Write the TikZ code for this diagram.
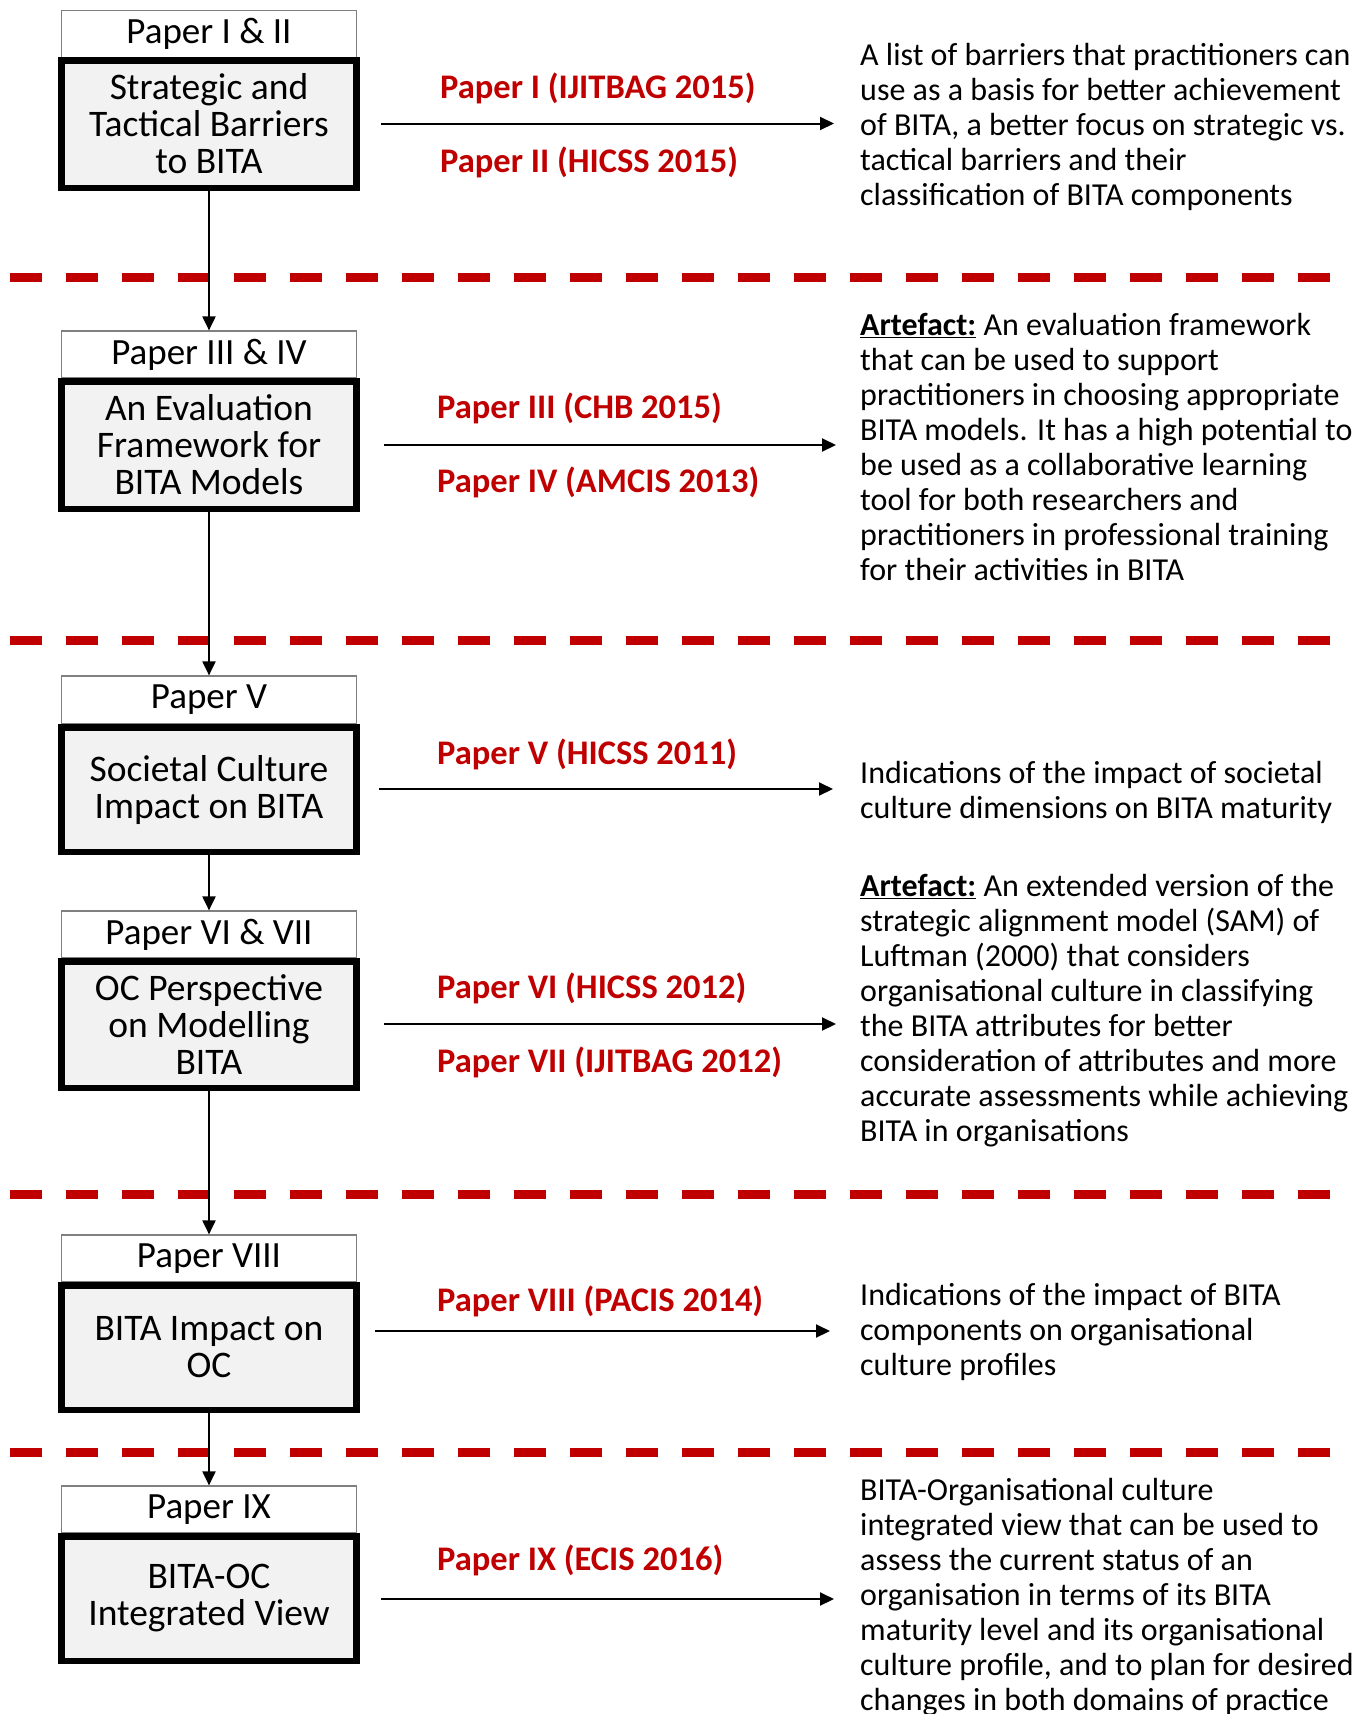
\documentclass[tikz,border=0pt]{standalone}
\usepackage{fontspec}
\setmainfont{Carlito}
\usepackage{tikz}
\usepackage{xcolor}
\usetikzlibrary{arrows.meta, positioning}
\definecolor{BITA_Red}{HTML}{C00000}
\definecolor{BITA_Grey}{HTML}{F2F2F2}
\definecolor{BITA_Edge}{HTML}{808080}

\begin{document}
\begin{tikzpicture}[x=1pt, y=-1pt,
    hdr/.style={draw=BITA_Edge, line width=1.2pt, minimum width=295pt, minimum height=47pt,
        inner sep=0pt, font=\fontsize{37}{38}\selectfont},
    topic/.style={draw=black, line width=6.5pt, fill=BITA_Grey, minimum width=295pt,
        minimum height=124.5pt, inner sep=0pt, align=center, font=\fontsize{37.5}{37}\selectfont},
    paper/.style={anchor=west, inner sep=0pt, text=BITA_Red, font=\fontsize{34.5}{36}\selectfont\bfseries},
    result/.style={anchor=west, inner sep=0pt, align=left, font=\fontsize{32}{35}\selectfont},
    flow/.style={line width=2pt, -{Triangle[length=14pt,width=13pt]}},
    sepline/.style={draw=BITA_Red, line width=9pt, dash pattern=on 32pt off 24pt}]

    \useasboundingbox (0,0) rectangle (1372,1714);

    % All boxes share the column centred at x = 209, results start at x = 860

    % === phase separators ===
    \foreach \y in {277, 640, 1194, 1452}
        \draw[sepline] (10,\y) -- (1330,\y);

    % === Paper I & II ===
    \node[hdr] (h1) at (209, 34) {Paper I \& II};
    \node[topic, minimum height=127.5pt] (m1) at (209, 124) {Strategic and\\Tactical Barriers\\to BITA};
    \coordinate (a1s) at (381, 123.5);
    \coordinate (a1e) at (834, 123.5);
    \draw[flow] (a1s) -- (a1e);
    \node[paper] (p1) at (440, 88.5) {Paper I (IJITBAG 2015)};
    \node[paper] (p2) at (440, 162) {Paper II (HICSS 2015)};
    \node[result] (r1) at (860, 127) {A list of barriers that practitioners can\\
        use as a basis for better achievement\\
        of BITA, a better focus on strategic vs.\\
        tactical barriers and their\\
        classification of BITA components};

    % === Paper III & IV ===
    \node[hdr] (h2) at (209, 354.5) {Paper III \& IV};
    \node[topic, minimum height=127.5pt] (m2) at (209, 445) {An Evaluation\\Framework for\\BITA Models};
    \coordinate (a2s) at (384, 445);
    \coordinate (a2e) at (836, 445);
    \draw[flow] (a2s) -- (a2e);
    \node[paper] (p3) at (437, 408) {Paper III (CHB 2015)};
    \node[paper] (p4) at (437, 482) {Paper IV (AMCIS 2013)};
    \node[result] (r2) at (860, 447) {\underline{\textbf{Artefact:}} An evaluation framework\\
        that can be used to support\\
        practitioners in choosing appropriate\\
        BITA models. It has a high potential to\\
        be used as a collaborative learning\\
        tool for both researchers and\\
        practitioners in professional training\\
        for their activities in BITA};

    % === Paper V ===
    \node[hdr, minimum height=48pt] (h3) at (209, 700) {Paper V};
    \node[topic] (m3) at (209, 789.5) {Societal Culture\\Impact on BITA};
    \coordinate (a3s) at (379, 789);
    \coordinate (a3e) at (833, 789);
    \draw[flow] (a3s) -- (a3e);
    \node[paper] (p5) at (437, 754) {Paper V (HICSS 2011)};
    \node[result] (r3) at (860, 792.5) {Indications of the impact of societal\\
        culture dimensions on BITA maturity};

    % === Paper VI & VII ===
    \node[hdr] (h4) at (209, 934.5) {Paper VI \& VII};
    \node[topic, minimum height=126.5pt] (m4) at (209, 1024.5) {OC Perspective\\on Modelling\\BITA};
    \coordinate (a4s) at (384, 1024);
    \coordinate (a4e) at (836, 1024);
    \draw[flow] (a4s) -- (a4e);
    \node[paper] (p6) at (437, 988) {Paper VI (HICSS 2012)};
    \node[paper] (p7) at (437, 1062) {Paper VII (IJITBAG 2012)};
    \node[result] (r4) at (860, 1011) {\underline{\textbf{Artefact:}} An extended version of the\\
        strategic alignment model (SAM) of\\
        Luftman (2000) that considers\\
        organisational culture in classifying\\
        the BITA attributes for better\\
        consideration of attributes and more\\
        accurate assessments while achieving\\
        BITA in organisations};

    % === Paper VIII ===
    \node[hdr] (h5) at (209, 1258.5) {Paper VIII};
    \node[topic] (m5) at (209, 1347.5) {BITA Impact on\\OC};
    \coordinate (a5s) at (375, 1331);
    \coordinate (a5e) at (830, 1331);
    \draw[flow] (a5s) -- (a5e);
    \node[paper] (p8) at (437, 1301) {Paper VIII (PACIS 2014)};
    \node[result] (r5) at (860, 1331.5) {Indications of the impact of BITA\\
        components on organisational\\
        culture profiles};

    % === Paper IX ===
    \node[hdr] (h6) at (209, 1509.5) {Paper IX};
    \node[topic] (m6) at (209, 1598.5) {BITA-OC\\Integrated View};
    \coordinate (a6s) at (381, 1599);
    \coordinate (a6e) at (834, 1599);
    \draw[flow] (a6s) -- (a6e);
    \node[paper] (p9) at (437, 1560) {Paper IX (ECIS 2016)};
    \node[result] (r6) at (860, 1597) {BITA-Organisational culture\\
        integrated view that can be used to\\
        assess the current status of an\\
        organisation in terms of its BITA\\
        maturity level and its organisational\\
        culture profile, and to plan for desired\\
        changes in both domains of practice};

    % === flow between the phases ===
    \draw[flow] (m1) -- (h2);
    \draw[flow] (m2) -- (h3);
    \draw[flow] (m3) -- (h4);
    \draw[flow] (m4) -- (h5);
    \draw[flow] (m5) -- (h6);

\end{tikzpicture}
\end{document}
